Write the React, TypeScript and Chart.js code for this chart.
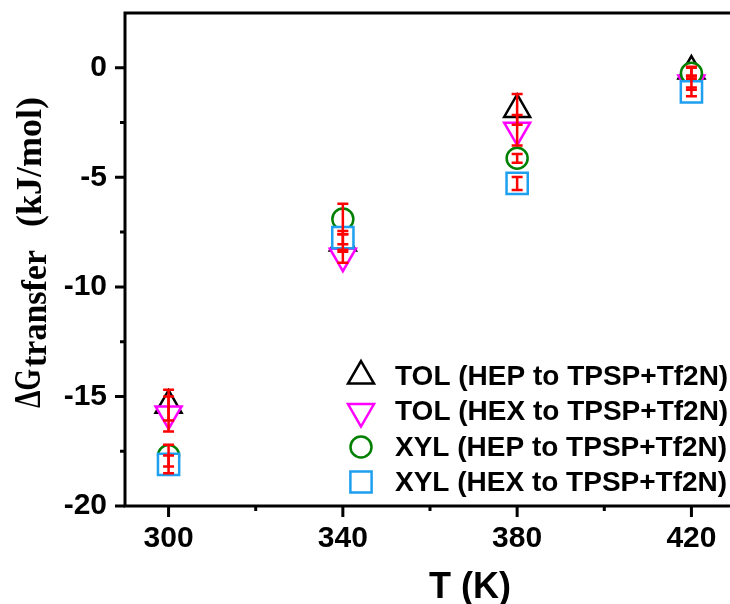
import React, { useEffect, useRef } from 'react';
import { Chart, registerables } from 'chart.js';
import { drawPoint } from 'chart.js/helpers';

Chart.register(...registerables);

// ---- data ----
const temperatures = [300, 340, 380, 420];
const tolHep = [-15.4, -8.0, -1.9, -0.15];
const tolHepErr = [0.7, 0.4, 0.7, 0.2];
const tolHex = [-15.8, -8.6, -2.85, -0.7];
const tolHexErr = [0.8, 0.3, 0.7, 0.3];
const xylHep = [-17.7, -6.9, -4.13, -0.25];
const xylHepErr = [0.5, 0.7, 0.2, 0.25];
const xylHex = [-18.1, -7.75, -5.28, -1.1];
const xylHexErr = [0.4, 0.3, 0.3, 0.2];
const seriesLabels = [
  'TOL (HEP to TPSP+Tf2N)',
  'TOL (HEX to TPSP+Tf2N)',
  'XYL (HEP to TPSP+Tf2N)',
  'XYL (HEX to TPSP+Tf2N)',
];
const xTicks = [300, 340, 380, 420];
const xMinorTicks = [320, 360, 400];
const yTicks = [-20, -15, -10, -5, 0];
const yMinorTicks = [-17.5, -12.5, -7.5, -2.5];

const seriesValues = [tolHep, tolHex, xylHep, xylHex];
const seriesErrors = [tolHepErr, tolHexErr, xylHepErr, xylHexErr];
const seriesColors = ['#000000', '#ff00ff', '#008000', '#1e9ff0'];
const seriesStyles = ['triangle', 'triangle', 'circle', 'rect'];
const seriesRotations = [0, 180, 0, 0];
const seriesRadii = [15, 15, 10.5, 15];

const SANS = '"Liberation Sans", Arial, sans-serif';
const SERIF = '"Liberation Serif", "Times New Roman", serif';

const customPlugin = {
  id: 'customDecor',
  afterDatasetsDraw(chart: any) {
    const { ctx, scales } = chart;
    const x = scales.x;
    const y = scales.y;
    ctx.save();
    ctx.strokeStyle = '#ff0000';
    ctx.lineWidth = 2.5;
    seriesValues.forEach((vals, si) => {
      const errs = seriesErrors[si];
      vals.forEach((v, i) => {
        const px = x.getPixelForValue(temperatures[i]);
        const top = y.getPixelForValue(v + errs[i]);
        const bot = y.getPixelForValue(v - errs[i]);
        ctx.beginPath();
        ctx.moveTo(px, top);
        ctx.lineTo(px, bot);
        ctx.moveTo(px - 5.5, top);
        ctx.lineTo(px + 5.5, top);
        ctx.moveTo(px - 5.5, bot);
        ctx.lineTo(px + 5.5, bot);
        ctx.stroke();
      });
    });
    ctx.restore();
  },
  afterDraw(chart: any) {
    const { ctx, chartArea, scales } = chart;
    const x = scales.x;
    const y = scales.y;
    const { left, right, top, bottom } = chartArea;
    ctx.save();
    // frame
    ctx.strokeStyle = '#000';
    ctx.lineWidth = 3;
    ctx.beginPath();
    ctx.moveTo(right, top);
    ctx.lineTo(left, top);
    ctx.lineTo(left, bottom);
    ctx.lineTo(right, bottom);
    ctx.stroke();
    // ticks
    ctx.lineWidth = 3;
    ctx.beginPath();
    yTicks.forEach((v) => {
      const py = y.getPixelForValue(v);
      ctx.moveTo(left - 10, py);
      ctx.lineTo(left, py);
    });
    yMinorTicks.forEach((v) => {
      const py = y.getPixelForValue(v);
      ctx.moveTo(left - 5, py);
      ctx.lineTo(left, py);
    });
    xTicks.forEach((v) => {
      const px = x.getPixelForValue(v);
      ctx.moveTo(px, bottom);
      ctx.lineTo(px, bottom + 11);
    });
    xMinorTicks.forEach((v) => {
      const px = x.getPixelForValue(v);
      ctx.moveTo(px, bottom);
      ctx.lineTo(px, bottom + 5);
    });
    ctx.stroke();

    // tick labels
    ctx.fillStyle = '#000';
    ctx.font = `bold 30px ${SANS}`;
    ctx.textBaseline = 'middle';
    ctx.textAlign = 'right';
    yTicks.forEach((v) => {
      ctx.fillText(String(v), left - 18, y.getPixelForValue(v));
    });
    ctx.textAlign = 'center';
    xTicks.forEach((v) => {
      ctx.fillText(String(v), x.getPixelForValue(v), bottom + 33);
    });

    // legend
    const rowY = [376, 411.5, 447, 482];
    seriesLabels.forEach((lab, i) => {
      ctx.save();
      ctx.strokeStyle = seriesColors[i];
      ctx.fillStyle = '#ffffff';
      ctx.lineWidth = 2.5;
      drawPoint(
        ctx,
        {
          pointStyle: seriesStyles[i] as any,
          radius: seriesRadii[i],
          rotation: seriesRotations[i],
          borderWidth: 2.5,
        },
        361,
        rowY[i]
      );
      ctx.restore();
      ctx.fillStyle = '#000';
      ctx.font = `bold 28px ${SANS}`;
      ctx.textAlign = 'left';
      ctx.textBaseline = 'middle';
      ctx.fillText(lab, 395, rowY[i] + 1);
    });

    // x title
    ctx.fillStyle = '#000';
    ctx.font = `bold 36px ${SANS}`;
    ctx.textAlign = 'center';
    ctx.textBaseline = 'alphabetic';
    ctx.fillText('T (K)', 470, 598);

    // y title (rotated, with subscript)
    const seg = (text: string, font: string, baseX: number, startY: number, endY: number) => {
      ctx.save();
      ctx.font = font;
      const w = ctx.measureText(text).width;
      ctx.translate(baseX, startY);
      ctx.rotate(-Math.PI / 2);
      ctx.scale((startY - endY) / w, 1);
      ctx.textAlign = 'left';
      ctx.textBaseline = 'alphabetic';
      ctx.fillText(text, 0, 0);
      ctx.restore();
    };
    ctx.fillStyle = '#000';
    seg('\u0394G', `bold 38px ${SERIF}`, 40, 408, 369);
    seg('transfer', `bold 36px ${SERIF}`, 46, 367, 250);
    seg('(kJ/mol)', `bold 36px ${SERIF}`, 41, 227, 97);
    ctx.restore();
  },
};

export default function App() {
  const ref = useRef<HTMLCanvasElement>(null);
  useEffect(() => {
    if (!ref.current) return;
    const datasets = seriesValues.map((vals, si) => ({
      label: seriesLabels[si],
      data: vals.map((v, i) => ({ x: temperatures[i], y: v })),
      showLine: false,
      pointStyle: seriesStyles[si] as any,
      pointRotation: seriesRotations[si],
      pointRadius: seriesRadii[si],
      pointBorderWidth: 2.5,
      pointBorderColor: seriesColors[si],
      pointBackgroundColor: '#ffffff',
      borderColor: seriesColors[si],
      backgroundColor: '#ffffff',
      order: 4 - si,
    }));
    const chart = new Chart(ref.current, {
      type: 'scatter',
      data: { datasets },
      options: {
        animation: false,
        responsive: false,
        devicePixelRatio: 1,
        layout: { autoPadding: false, padding: { top: 13, right: 5, left: 0, bottom: 0 } },
        plugins: { legend: { display: false }, tooltip: { enabled: false } },
        scales: {
          x: {
            type: 'linear',
            min: 290,
            max: 430,
            afterBuildTicks: (s: any) => {
              s.ticks = xTicks.map((v) => ({ value: v }));
            },
            afterFit: (s: any) => {
              s.height = 98;
            },
            grid: { display: false, drawTicks: false },
            border: { display: false },
            ticks: { display: false },
          },
          y: {
            type: 'linear',
            min: -20,
            max: 2.5,
            afterBuildTicks: (s: any) => {
              s.ticks = yTicks.map((v) => ({ value: v }));
            },
            afterFit: (s: any) => {
              s.width = 125;
            },
            grid: { display: false, drawTicks: false },
            border: { display: false },
            ticks: { display: false },
          },
        },
      },
      plugins: [customPlugin],
    });
    return () => chart.destroy();
  }, []);
  return (
    <div
      style={{
        position: 'fixed',
        left: 0,
        top: 0,
        width: 730,
        height: 604,
        overflow: 'hidden',
        background: '#fff',
      }}
    >
      <canvas ref={ref} width={740} height={604} style={{ display: 'block', width: 740, height: 604 }} />
    </div>
  );
}
